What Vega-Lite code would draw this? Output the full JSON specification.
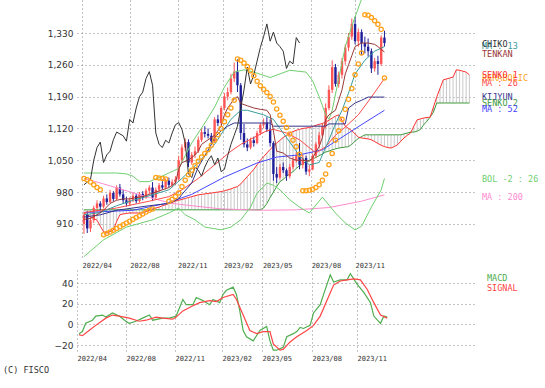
{
"$schema":"https://vega.github.io/schema/vega-lite/v6.json",
"background":"white",
"padding":{"left":3,"top":0,"right":0,"bottom":0},
"title":{"text":"(C) FISCO","orient":"bottom","anchor":"start","frame":"group","dx":-74,"offset":5,"font":"DejaVu Sans Mono","fontSize":8.5,"fontWeight":"normal","color":"#333333"},
"spacing":12,
"bounds":"flush",
"resolve":{"scale":{"x":"independent","y":"independent","color":"independent"}},
"datasets":{
"candles":[
{"i":0,"o":910,"h":935,"l":888,"c":930,"p":1010},{"i":1,"o":930,"h":938,"l":890,"c":900,"p":1007},{"i":2,"o":900,"h":925,"l":892,"c":918,"p":1002},{"i":3,"o":918,"h":950,"l":912,"c":945,"p":996},{"i":4,"o":945,"h":962,"l":938,"c":955,"p":990},{"i":5,"o":955,"h":960,"l":940,"c":948,"p":985},{"i":6,"o":948,"h":972,"l":944,"c":966,"p":886},{"i":7,"o":966,"h":975,"l":952,"c":958,"p":889},{"i":8,"o":958,"h":985,"l":955,"c":978,"p":892},{"i":9,"o":978,"h":982,"l":960,"c":965,"p":896},
{"i":10,"o":965,"h":995,"l":962,"c":990,"p":900},{"i":11,"o":990,"h":998,"l":970,"c":975,"p":904},{"i":12,"o":975,"h":985,"l":955,"c":962,"p":908},{"i":13,"o":962,"h":970,"l":948,"c":955,"p":912},{"i":14,"o":955,"h":968,"l":950,"c":963,"p":916},{"i":15,"o":963,"h":978,"l":958,"c":972,"p":920},{"i":16,"o":972,"h":976,"l":955,"c":960,"p":924},{"i":17,"o":960,"h":980,"l":957,"c":976,"p":928},{"i":18,"o":976,"h":982,"l":962,"c":968,"p":932},{"i":19,"o":968,"h":988,"l":965,"c":983,"p":936},
{"i":20,"o":983,"h":995,"l":975,"c":990,"p":940},{"i":21,"o":990,"h":1002,"l":960,"c":968,"p":943},{"i":22,"o":968,"h":990,"l":964,"c":985,"p":1012},{"i":23,"o":985,"h":1000,"l":980,"c":995,"p":1011},{"i":24,"o":995,"h":1008,"l":985,"c":990,"p":1010},{"i":25,"o":990,"h":1010,"l":986,"c":1005,"p":1009},{"i":26,"o":1005,"h":1012,"l":990,"c":996,"p":960},{"i":27,"o":996,"h":1008,"l":990,"c":1002,"p":964},{"i":28,"o":1002,"h":1015,"l":995,"c":1008,"p":970},{"i":29,"o":1008,"h":1060,"l":1005,"c":1050,"p":978},
{"i":30,"o":1050,"h":1085,"l":1045,"c":1078,"p":992},{"i":31,"o":1078,"h":1098,"l":1070,"c":1090,"p":1006},{"i":32,"o":1090,"h":1096,"l":1035,"c":1045,"p":1018},{"i":33,"o":1045,"h":1068,"l":1040,"c":1062,"p":1028},{"i":34,"o":1062,"h":1080,"l":1055,"c":1070,"p":1038},{"i":35,"o":1070,"h":1102,"l":1066,"c":1095,"p":1048},{"i":36,"o":1095,"h":1120,"l":1090,"c":1112,"p":1057},{"i":37,"o":1112,"h":1125,"l":1100,"c":1108,"p":1065},{"i":38,"o":1108,"h":1120,"l":1098,"c":1104,"p":1073},{"i":39,"o":1104,"h":1110,"l":1085,"c":1092,"p":1083},
{"i":40,"o":1092,"h":1145,"l":1090,"c":1140,"p":1094},{"i":41,"o":1140,"h":1150,"l":1125,"c":1132,"p":1106},{"i":42,"o":1132,"h":1170,"l":1128,"c":1165,"p":1120},{"i":43,"o":1165,"h":1198,"l":1160,"c":1190,"p":1135},{"i":44,"o":1190,"h":1210,"l":1182,"c":1200,"p":1150},{"i":45,"o":1200,"h":1240,"l":1195,"c":1230,"p":1165},{"i":46,"o":1230,"h":1265,"l":1222,"c":1245,"p":1182},{"i":47,"o":1245,"h":1272,"l":1200,"c":1215,"p":1273},{"i":48,"o":1215,"h":1220,"l":1095,"c":1110,"p":1270},{"i":49,"o":1110,"h":1130,"l":1078,"c":1085,"p":1264},
{"i":50,"o":1085,"h":1098,"l":1070,"c":1078,"p":1256},{"i":51,"o":1078,"h":1100,"l":1074,"c":1094,"p":1247},{"i":52,"o":1094,"h":1102,"l":1080,"c":1088,"p":1236},{"i":53,"o":1088,"h":1115,"l":1085,"c":1110,"p":1224},{"i":54,"o":1110,"h":1132,"l":1105,"c":1128,"p":1214},{"i":55,"o":1128,"h":1142,"l":1120,"c":1133,"p":1206},{"i":56,"o":1133,"h":1145,"l":1112,"c":1118,"p":1199},{"i":57,"o":1118,"h":1140,"l":1080,"c":1088,"p":1190},{"i":58,"o":1088,"h":1092,"l":1005,"c":1020,"p":1178},{"i":59,"o":1020,"h":1035,"l":1000,"c":1012,"p":1163},
{"i":60,"o":1012,"h":1042,"l":1008,"c":1035,"p":1149},{"i":61,"o":1035,"h":1045,"l":1022,"c":1028,"p":1136},{"i":62,"o":1028,"h":1032,"l":1005,"c":1015,"p":1122},{"i":63,"o":1015,"h":1042,"l":1010,"c":1035,"p":1108},{"i":64,"o":1035,"h":1058,"l":1030,"c":1050,"p":1094},{"i":65,"o":1050,"h":1068,"l":1045,"c":1060,"p":1080},{"i":66,"o":1060,"h":1088,"l":1030,"c":1040,"p":1063},{"i":67,"o":1040,"h":1062,"l":1032,"c":1055,"p":983},{"i":68,"o":1055,"h":1060,"l":1018,"c":1025,"p":983},{"i":69,"o":1025,"h":1040,"l":1015,"c":1030,"p":984},
{"i":70,"o":1030,"h":1065,"l":1028,"c":1060,"p":986},{"i":71,"o":1060,"h":1090,"l":1055,"c":1085,"p":990},{"i":72,"o":1085,"h":1112,"l":1078,"c":1105,"p":996},{"i":73,"o":1105,"h":1130,"l":1100,"c":1125,"p":1006},{"i":74,"o":1125,"h":1175,"l":1120,"c":1165,"p":1020},{"i":75,"o":1165,"h":1215,"l":1160,"c":1205,"p":1040},{"i":76,"o":1205,"h":1270,"l":1198,"c":1255,"p":1065},{"i":77,"o":1255,"h":1262,"l":1212,"c":1218,"p":1094},{"i":78,"o":1218,"h":1245,"l":1210,"c":1238,"p":1115},{"i":79,"o":1238,"h":1275,"l":1230,"c":1268,"p":1140},
{"i":80,"o":1268,"h":1305,"l":1260,"c":1298,"p":1162},{"i":81,"o":1298,"h":1330,"l":1290,"c":1322,"p":1184},{"i":82,"o":1322,"h":1362,"l":1315,"c":1350,"p":1208},{"i":83,"o":1350,"h":1366,"l":1305,"c":1312,"p":1238},{"i":84,"o":1312,"h":1340,"l":1300,"c":1332,"p":1262},{"i":85,"o":1332,"h":1338,"l":1282,"c":1308,"p":1286},{"i":86,"o":1308,"h":1322,"l":1285,"c":1300,"p":1370},{"i":87,"o":1300,"h":1318,"l":1278,"c":1290,"p":1369},{"i":88,"o":1290,"h":1296,"l":1242,"c":1252,"p":1364},{"i":89,"o":1252,"h":1275,"l":1245,"c":1268,"p":1357},
{"i":90,"o":1268,"h":1280,"l":1238,"c":1262,"p":1349},{"i":91,"o":1262,"h":1325,"l":1258,"c":1320,"p":1338},{"i":92,"o":1320,"h":1335,"l":1300,"c":1308,"p":1231}
],
"cloud":[
{"i":0,"s1":934,"s2":941},{"i":1,"s1":930,"s2":941},{"i":2,"s1":926,"s2":941},{"i":3,"s1":922,"s2":941},{"i":4,"s1":918,"s2":941},{"i":5,"s1":905,"s2":941},{"i":6,"s1":893,"s2":941},{"i":7,"s1":890,"s2":941},{"i":8,"s1":893,"s2":941},{"i":9,"s1":897,"s2":941},
{"i":10,"s1":915,"s2":941},{"i":11,"s1":930,"s2":941},{"i":12,"s1":932,"s2":941},{"i":13,"s1":933,"s2":941},{"i":14,"s1":934,"s2":941},{"i":15,"s1":934,"s2":941},{"i":16,"s1":934,"s2":941},{"i":17,"s1":934,"s2":941},{"i":18,"s1":934,"s2":941},{"i":19,"s1":937,"s2":941},
{"i":20,"s1":940,"s2":941},{"i":21,"s1":943,"s2":941},{"i":22,"s1":945,"s2":941},{"i":23,"s1":947,"s2":941},{"i":24,"s1":950,"s2":941},{"i":25,"s1":952,"s2":941},{"i":26,"s1":955,"s2":941},{"i":27,"s1":957,"s2":941},{"i":28,"s1":960,"s2":941},{"i":29,"s1":962,"s2":941},
{"i":30,"s1":964,"s2":941},{"i":31,"s1":966,"s2":941},{"i":32,"s1":968,"s2":941},{"i":33,"s1":970,"s2":941},{"i":34,"s1":972,"s2":941},{"i":35,"s1":974,"s2":941},{"i":36,"s1":975,"s2":941},{"i":37,"s1":976,"s2":941},{"i":38,"s1":977,"s2":941},{"i":39,"s1":978,"s2":941},
{"i":40,"s1":979,"s2":941},{"i":41,"s1":980,"s2":941},{"i":42,"s1":981,"s2":941},{"i":43,"s1":983,"s2":941},{"i":44,"s1":985,"s2":941},{"i":45,"s1":987,"s2":941},{"i":46,"s1":990,"s2":941},{"i":47,"s1":992,"s2":941},{"i":48,"s1":998,"s2":941},{"i":49,"s1":1006,"s2":941},
{"i":50,"s1":1014,"s2":941},{"i":51,"s1":1022,"s2":941},{"i":52,"s1":1030,"s2":941},{"i":53,"s1":1040,"s2":941},{"i":54,"s1":1050,"s2":941},{"i":55,"s1":1058,"s2":945},{"i":56,"s1":1066,"s2":955},{"i":57,"s1":1074,"s2":968},{"i":58,"s1":1081,"s2":980},{"i":59,"s1":1088,"s2":992},
{"i":60,"s1":1094,"s2":1003},{"i":61,"s1":1100,"s2":1008},{"i":62,"s1":1105,"s2":1015},{"i":63,"s1":1110,"s2":1020},{"i":64,"s1":1113,"s2":1025},{"i":65,"s1":1116,"s2":1032},{"i":66,"s1":1118,"s2":1038},{"i":67,"s1":1120,"s2":1043},{"i":68,"s1":1121,"s2":1047},{"i":69,"s1":1122,"s2":1050},
{"i":70,"s1":1124,"s2":1053},{"i":71,"s1":1127,"s2":1056},{"i":72,"s1":1129,"s2":1060},{"i":73,"s1":1131,"s2":1064},{"i":74,"s1":1134,"s2":1068},{"i":75,"s1":1138,"s2":1070},{"i":76,"s1":1143,"s2":1073},{"i":77,"s1":1147,"s2":1075},{"i":78,"s1":1150,"s2":1077},{"i":79,"s1":1138,"s2":1078},
{"i":80,"s1":1125,"s2":1079},{"i":81,"s1":1120,"s2":1080},{"i":82,"s1":1115,"s2":1085},{"i":83,"s1":1108,"s2":1092},{"i":84,"s1":1101,"s2":1098},{"i":85,"s1":1099,"s2":1102},{"i":86,"s1":1098,"s2":1106},{"i":87,"s1":1097,"s2":1106},{"i":88,"s1":1095,"s2":1106},{"i":89,"s1":1091,"s2":1106},
{"i":90,"s1":1087,"s2":1106},{"i":91,"s1":1083,"s2":1106},{"i":92,"s1":1080,"s2":1106},{"i":93,"s1":1078,"s2":1106},{"i":94,"s1":1077,"s2":1106},{"i":95,"s1":1080,"s2":1106},{"i":96,"s1":1084,"s2":1106},{"i":97,"s1":1092,"s2":1106},{"i":98,"s1":1099,"s2":1108},{"i":99,"s1":1105,"s2":1110},
{"i":100,"s1":1110,"s2":1112},{"i":101,"s1":1125,"s2":1112},{"i":102,"s1":1139,"s2":1114},{"i":103,"s1":1141,"s2":1118},{"i":104,"s1":1143,"s2":1128},{"i":105,"s1":1144,"s2":1136},{"i":106,"s1":1145,"s2":1145},{"i":107,"s1":1167,"s2":1156},{"i":108,"s1":1189,"s2":1176},{"i":109,"s1":1208,"s2":1176},
{"i":110,"s1":1227,"s2":1176},{"i":111,"s1":1229,"s2":1176},{"i":112,"s1":1231,"s2":1176},{"i":113,"s1":1233,"s2":1176},{"i":114,"s1":1249,"s2":1176},{"i":115,"s1":1248,"s2":1176},{"i":116,"s1":1246,"s2":1176},{"i":117,"s1":1244,"s2":1176},{"i":118,"s1":1238,"s2":1176}
],
"lines":[
{"s":"MA : 200","i":0,"v":1010},{"s":"MA : 200","i":6,"v":998},{"s":"MA : 200","i":12,"v":985},{"s":"MA : 200","i":20,"v":968},{"s":"MA : 200","i":27,"v":955},{"s":"MA : 200","i":33,"v":950},{"s":"MA : 200","i":42,"v":943},{"s":"MA : 200","i":55,"v":940},{"s":"MA : 200","i":65,"v":941},{"s":"MA : 200","i":75,"v":946},{"s":"MA : 200","i":85,"v":960},{"s":"MA : 200","i":92,"v":974},
{"s":"BOLU","i":0,"v":1022},{"s":"BOLU","i":5,"v":1022},{"s":"BOLU","i":10,"v":1022},{"s":"BOLU","i":13,"v":1020},{"s":"BOLU","i":15,"v":1015},{"s":"BOLU","i":17,"v":1003},{"s":"BOLU","i":20,"v":1003},{"s":"BOLU","i":23,"v":1012},{"s":"BOLU","i":26,"v":1022},{"s":"BOLU","i":29,"v":1032},{"s":"BOLU","i":31,"v":1060},{"s":"BOLU","i":33,"v":1088},{"s":"BOLU","i":37,"v":1132},{"s":"BOLU","i":40,"v":1167},{"s":"BOLU","i":43,"v":1211},{"s":"BOLU","i":46,"v":1244},{"s":"BOLU","i":49,"v":1249},{"s":"BOLU","i":52,"v":1244},{"s":"BOLU","i":57,"v":1232},{"s":"BOLU","i":63,"v":1248},{"s":"BOLU","i":68,"v":1244},{"s":"BOLU","i":70,"v":1225},{"s":"BOLU","i":72,"v":1190},{"s":"BOLU","i":74,"v":1150},{"s":"BOLU","i":75,"v":1140},{"s":"BOLU","i":76,"v":1160},{"s":"BOLU","i":78,"v":1230},{"s":"BOLU","i":80,"v":1300},{"s":"BOLU","i":82,"v":1345},{"s":"BOLU","i":84,"v":1385},{"s":"BOLU","i":85,"v":1405},{"s":"BOLU","i":87,"v":1430},{"s":"BOLU","i":90,"v":1450},{"s":"BOLU","i":92,"v":1451},
{"s":"BOL -2 : 26","i":0,"v":838},{"s":"BOL -2 : 26","i":6,"v":875},{"s":"BOL -2 : 26","i":13,"v":903},{"s":"BOL -2 : 26","i":21,"v":919},{"s":"BOL -2 : 26","i":26,"v":934},{"s":"BOL -2 : 26","i":29,"v":945},{"s":"BOL -2 : 26","i":31,"v":930},{"s":"BOL -2 : 26","i":34,"v":919},{"s":"BOL -2 : 26","i":37,"v":903},{"s":"BOL -2 : 26","i":42,"v":897},{"s":"BOL -2 : 26","i":45,"v":903},{"s":"BOL -2 : 26","i":48,"v":919},{"s":"BOL -2 : 26","i":51,"v":947},{"s":"BOL -2 : 26","i":53,"v":978},{"s":"BOL -2 : 26","i":55,"v":992},{"s":"BOL -2 : 26","i":56,"v":1000},{"s":"BOL -2 : 26","i":58,"v":995},{"s":"BOL -2 : 26","i":60,"v":985},{"s":"BOL -2 : 26","i":63,"v":963},{"s":"BOL -2 : 26","i":66,"v":947},{"s":"BOL -2 : 26","i":69,"v":934},{"s":"BOL -2 : 26","i":72,"v":960},{"s":"BOL -2 : 26","i":73,"v":969},{"s":"BOL -2 : 26","i":77,"v":934},{"s":"BOL -2 : 26","i":80,"v":912},{"s":"BOL -2 : 26","i":83,"v":897},{"s":"BOL -2 : 26","i":85,"v":905},{"s":"BOL -2 : 26","i":88,"v":947},{"s":"BOL -2 : 26","i":91,"v":985},{"s":"BOL -2 : 26","i":92,"v":1010},
{"s":"MA : 52","i":0,"v":935},{"s":"MA : 52","i":15,"v":940},{"s":"MA : 52","i":25,"v":955},{"s":"MA : 52","i":33,"v":975},{"s":"MA : 52","i":43,"v":1013},{"s":"MA : 52","i":53,"v":1044},{"s":"MA : 52","i":59,"v":1057},{"s":"MA : 52","i":66,"v":1062},{"s":"MA : 52","i":73,"v":1073},{"s":"MA : 52","i":81,"v":1110},{"s":"MA : 52","i":86,"v":1133},{"s":"MA : 52","i":92,"v":1160},
{"s":"MA : 26","i":0,"v":935},{"s":"MA : 26","i":10,"v":945},{"s":"MA : 26","i":20,"v":960},{"s":"MA : 26","i":26,"v":970},{"s":"MA : 26","i":30,"v":985},{"s":"MA : 26","i":35,"v":1010},{"s":"MA : 26","i":40,"v":1040},{"s":"MA : 26","i":45,"v":1070},{"s":"MA : 26","i":48,"v":1085},{"s":"MA : 26","i":52,"v":1100},{"s":"MA : 26","i":56,"v":1115},{"s":"MA : 26","i":58,"v":1118},{"s":"MA : 26","i":62,"v":1110},{"s":"MA : 26","i":66,"v":1095},{"s":"MA : 26","i":71,"v":1066},{"s":"MA : 26","i":74,"v":1080},{"s":"MA : 26","i":77,"v":1105},{"s":"MA : 26","i":80,"v":1123},{"s":"MA : 26","i":84,"v":1150},{"s":"MA : 26","i":88,"v":1189},{"s":"MA : 26","i":92,"v":1230},
{"s":"MA : 13","i":0,"v":930},{"s":"MA : 13","i":5,"v":935},{"s":"MA : 13","i":10,"v":950},{"s":"MA : 13","i":15,"v":962},{"s":"MA : 13","i":20,"v":972},{"s":"MA : 13","i":26,"v":985},{"s":"MA : 13","i":30,"v":1010},{"s":"MA : 13","i":35,"v":1045},{"s":"MA : 13","i":40,"v":1085},{"s":"MA : 13","i":45,"v":1140},{"s":"MA : 13","i":48,"v":1160},{"s":"MA : 13","i":50,"v":1160},{"s":"MA : 13","i":55,"v":1150},{"s":"MA : 13","i":58,"v":1140},{"s":"MA : 13","i":60,"v":1120},{"s":"MA : 13","i":63,"v":1090},{"s":"MA : 13","i":66,"v":1060},{"s":"MA : 13","i":69,"v":1040},{"s":"MA : 13","i":72,"v":1045},{"s":"MA : 13","i":75,"v":1095},{"s":"MA : 13","i":77,"v":1130},{"s":"MA : 13","i":79,"v":1160},{"s":"MA : 13","i":81,"v":1198},{"s":"MA : 13","i":83,"v":1240},{"s":"MA : 13","i":86,"v":1270},{"s":"MA : 13","i":89,"v":1290},{"s":"MA : 13","i":92,"v":1300},
{"s":"KIJYUN","i":0,"v":925},{"s":"KIJYUN","i":5,"v":930},{"s":"KIJYUN","i":10,"v":940},{"s":"KIJYUN","i":20,"v":950},{"s":"KIJYUN","i":26,"v":955},{"s":"KIJYUN","i":29,"v":965},{"s":"KIJYUN","i":30,"v":975},{"s":"KIJYUN","i":33,"v":1000},{"s":"KIJYUN","i":35,"v":1035},{"s":"KIJYUN","i":37,"v":1060},{"s":"KIJYUN","i":39,"v":1085},{"s":"KIJYUN","i":40,"v":1100},{"s":"KIJYUN","i":42,"v":1115},{"s":"KIJYUN","i":44,"v":1125},{"s":"KIJYUN","i":46,"v":1132},{"s":"KIJYUN","i":57,"v":1132},{"s":"KIJYUN","i":58,"v":1125},{"s":"KIJYUN","i":74,"v":1125},{"s":"KIJYUN","i":75,"v":1130},{"s":"KIJYUN","i":80,"v":1130},{"s":"KIJYUN","i":81,"v":1165},{"s":"KIJYUN","i":83,"v":1176},{"s":"KIJYUN","i":85,"v":1182},{"s":"KIJYUN","i":87,"v":1189},{"s":"KIJYUN","i":92,"v":1189},
{"s":"TENKAN","i":0,"v":920},{"s":"TENKAN","i":2,"v":922},{"s":"TENKAN","i":4,"v":930},{"s":"TENKAN","i":6,"v":940},{"s":"TENKAN","i":8,"v":955},{"s":"TENKAN","i":10,"v":962},{"s":"TENKAN","i":12,"v":965},{"s":"TENKAN","i":14,"v":965},{"s":"TENKAN","i":16,"v":968},{"s":"TENKAN","i":18,"v":970},{"s":"TENKAN","i":20,"v":975},{"s":"TENKAN","i":22,"v":980},{"s":"TENKAN","i":24,"v":985},{"s":"TENKAN","i":26,"v":990},{"s":"TENKAN","i":28,"v":1000},{"s":"TENKAN","i":29,"v":1030},{"s":"TENKAN","i":30,"v":1045},{"s":"TENKAN","i":32,"v":1050},{"s":"TENKAN","i":34,"v":1062},{"s":"TENKAN","i":35,"v":1070},{"s":"TENKAN","i":36,"v":1085},{"s":"TENKAN","i":38,"v":1095},{"s":"TENKAN","i":40,"v":1105},{"s":"TENKAN","i":42,"v":1125},{"s":"TENKAN","i":43,"v":1150},{"s":"TENKAN","i":44,"v":1165},{"s":"TENKAN","i":46,"v":1185},{"s":"TENKAN","i":47,"v":1190},{"s":"TENKAN","i":48,"v":1175},{"s":"TENKAN","i":50,"v":1170},{"s":"TENKAN","i":52,"v":1165},{"s":"TENKAN","i":54,"v":1162},{"s":"TENKAN","i":56,"v":1160},{"s":"TENKAN","i":57,"v":1150},{"s":"TENKAN","i":58,"v":1115},{"s":"TENKAN","i":59,"v":1070},{"s":"TENKAN","i":61,"v":1066},{"s":"TENKAN","i":63,"v":1055},{"s":"TENKAN","i":65,"v":1050},{"s":"TENKAN","i":67,"v":1050},{"s":"TENKAN","i":69,"v":1048},{"s":"TENKAN","i":70,"v":1055},{"s":"TENKAN","i":71,"v":1068},{"s":"TENKAN","i":72,"v":1080},{"s":"TENKAN","i":73,"v":1100},{"s":"TENKAN","i":74,"v":1140},{"s":"TENKAN","i":75,"v":1150},{"s":"TENKAN","i":77,"v":1160},{"s":"TENKAN","i":79,"v":1205},{"s":"TENKAN","i":80,"v":1240},{"s":"TENKAN","i":81,"v":1260},{"s":"TENKAN","i":82,"v":1280},{"s":"TENKAN","i":83,"v":1300},{"s":"TENKAN","i":85,"v":1308},{"s":"TENKAN","i":87,"v":1308},{"s":"TENKAN","i":89,"v":1305},{"s":"TENKAN","i":90,"v":1300},{"s":"TENKAN","i":92,"v":1288},
{"s":"CHIKO","i":0,"v":996},{"s":"CHIKO","i":1,"v":1002},{"s":"CHIKO","i":2,"v":1008},{"s":"CHIKO","i":3,"v":1050},{"s":"CHIKO","i":4,"v":1078},{"s":"CHIKO","i":5,"v":1090},{"s":"CHIKO","i":6,"v":1045},{"s":"CHIKO","i":7,"v":1062},{"s":"CHIKO","i":8,"v":1070},{"s":"CHIKO","i":9,"v":1095},{"s":"CHIKO","i":10,"v":1112},{"s":"CHIKO","i":11,"v":1108},{"s":"CHIKO","i":12,"v":1104},{"s":"CHIKO","i":13,"v":1092},{"s":"CHIKO","i":14,"v":1140},{"s":"CHIKO","i":15,"v":1132},{"s":"CHIKO","i":16,"v":1165},{"s":"CHIKO","i":17,"v":1190},{"s":"CHIKO","i":18,"v":1200},{"s":"CHIKO","i":19,"v":1230},{"s":"CHIKO","i":20,"v":1245},{"s":"CHIKO","i":21,"v":1215},{"s":"CHIKO","i":22,"v":1110},{"s":"CHIKO","i":23,"v":1085},{"s":"CHIKO","i":24,"v":1078},{"s":"CHIKO","i":25,"v":1094},{"s":"CHIKO","i":26,"v":1088},{"s":"CHIKO","i":27,"v":1110},{"s":"CHIKO","i":28,"v":1128},{"s":"CHIKO","i":29,"v":1133},{"s":"CHIKO","i":30,"v":1118},{"s":"CHIKO","i":31,"v":1088},{"s":"CHIKO","i":32,"v":1020},{"s":"CHIKO","i":33,"v":1012},{"s":"CHIKO","i":34,"v":1035},{"s":"CHIKO","i":35,"v":1028},{"s":"CHIKO","i":36,"v":1015},{"s":"CHIKO","i":37,"v":1035},{"s":"CHIKO","i":38,"v":1050},{"s":"CHIKO","i":39,"v":1060},{"s":"CHIKO","i":40,"v":1040},{"s":"CHIKO","i":41,"v":1055},{"s":"CHIKO","i":42,"v":1025},{"s":"CHIKO","i":43,"v":1030},{"s":"CHIKO","i":44,"v":1060},{"s":"CHIKO","i":45,"v":1085},{"s":"CHIKO","i":46,"v":1105},{"s":"CHIKO","i":47,"v":1125},{"s":"CHIKO","i":48,"v":1165},{"s":"CHIKO","i":49,"v":1205},{"s":"CHIKO","i":50,"v":1255},{"s":"CHIKO","i":51,"v":1218},{"s":"CHIKO","i":52,"v":1238},{"s":"CHIKO","i":53,"v":1268},{"s":"CHIKO","i":54,"v":1298},{"s":"CHIKO","i":55,"v":1322},{"s":"CHIKO","i":56,"v":1350},{"s":"CHIKO","i":57,"v":1312},{"s":"CHIKO","i":58,"v":1332},{"s":"CHIKO","i":59,"v":1308},{"s":"CHIKO","i":60,"v":1300},{"s":"CHIKO","i":61,"v":1290},{"s":"CHIKO","i":62,"v":1252},{"s":"CHIKO","i":63,"v":1268},{"s":"CHIKO","i":64,"v":1262},{"s":"CHIKO","i":65,"v":1320},{"s":"CHIKO","i":66,"v":1308}
],
"labels":[
{"s":"MA : 13","v":1302},{"s":"CHIKO","v":1306},{"s":"TENKAN","v":1284},{"s":"PARABOLIC","v":1232},{"s":"SENKO 1","v":1237},{"s":"MA : 26","v":1221},{"s":"KIJYUN","v":1190},{"s":"SENKO 2","v":1176},{"s":"MA : 52","v":1162},{"s":"BOL -2 : 26","v":1009},{"s":"MA : 200","v":970}
],
"macd":[
{"s":"MACD","i":0,"v":-9},{"s":"MACD","i":1,"v":-7},{"s":"MACD","i":2,"v":1},{"s":"MACD","i":4,"v":4},{"s":"MACD","i":5,"v":8},{"s":"MACD","i":7,"v":9},{"s":"MACD","i":8,"v":7},{"s":"MACD","i":10,"v":11},{"s":"MACD","i":12,"v":8},{"s":"MACD","i":14,"v":3},{"s":"MACD","i":15,"v":1},{"s":"MACD","i":17,"v":3},{"s":"MACD","i":19,"v":6},{"s":"MACD","i":21,"v":9},{"s":"MACD","i":22,"v":4},{"s":"MACD","i":25,"v":6},{"s":"MACD","i":27,"v":6},{"s":"MACD","i":29,"v":8},{"s":"MACD","i":31,"v":24},{"s":"MACD","i":32,"v":19},{"s":"MACD","i":34,"v":19},{"s":"MACD","i":35,"v":26},{"s":"MACD","i":37,"v":23},{"s":"MACD","i":39,"v":19},{"s":"MACD","i":40,"v":24},{"s":"MACD","i":42,"v":21},{"s":"MACD","i":43,"v":29},{"s":"MACD","i":44,"v":33},{"s":"MACD","i":46,"v":36},{"s":"MACD","i":47,"v":29},{"s":"MACD","i":48,"v":13},{"s":"MACD","i":49,"v":-6},{"s":"MACD","i":50,"v":-12},{"s":"MACD","i":52,"v":-16},{"s":"MACD","i":53,"v":-11},{"s":"MACD","i":54,"v":-6},{"s":"MACD","i":56,"v":-2},{"s":"MACD","i":57,"v":-16},{"s":"MACD","i":58,"v":-25},{"s":"MACD","i":59,"v":-25},{"s":"MACD","i":61,"v":-22},{"s":"MACD","i":62,"v":-12},{"s":"MACD","i":64,"v":-9},{"s":"MACD","i":65,"v":-7},{"s":"MACD","i":66,"v":-3},{"s":"MACD","i":67,"v":-4},{"s":"MACD","i":69,"v":-1},{"s":"MACD","i":70,"v":11},{"s":"MACD","i":72,"v":19},{"s":"MACD","i":73,"v":29},{"s":"MACD","i":75,"v":48},{"s":"MACD","i":76,"v":41},{"s":"MACD","i":78,"v":43},{"s":"MACD","i":80,"v":43},{"s":"MACD","i":81,"v":49},{"s":"MACD","i":82,"v":44},{"s":"MACD","i":83,"v":39},{"s":"MACD","i":85,"v":31},{"s":"MACD","i":87,"v":21},{"s":"MACD","i":88,"v":8},{"s":"MACD","i":90,"v":1},{"s":"MACD","i":91,"v":8},{"s":"MACD","i":92,"v":7},
{"s":"SIGNAL","i":0,"v":-10},{"s":"SIGNAL","i":1,"v":-11},{"s":"SIGNAL","i":3,"v":-6},{"s":"SIGNAL","i":5,"v":-1},{"s":"SIGNAL","i":8,"v":6},{"s":"SIGNAL","i":10,"v":9},{"s":"SIGNAL","i":12,"v":8},{"s":"SIGNAL","i":15,"v":6},{"s":"SIGNAL","i":18,"v":3},{"s":"SIGNAL","i":20,"v":4},{"s":"SIGNAL","i":23,"v":7},{"s":"SIGNAL","i":25,"v":6},{"s":"SIGNAL","i":28,"v":5},{"s":"SIGNAL","i":29,"v":7},{"s":"SIGNAL","i":31,"v":13},{"s":"SIGNAL","i":34,"v":18},{"s":"SIGNAL","i":36,"v":21},{"s":"SIGNAL","i":39,"v":23},{"s":"SIGNAL","i":41,"v":22},{"s":"SIGNAL","i":43,"v":26},{"s":"SIGNAL","i":46,"v":29},{"s":"SIGNAL","i":47,"v":24},{"s":"SIGNAL","i":49,"v":9},{"s":"SIGNAL","i":51,"v":-6},{"s":"SIGNAL","i":53,"v":-9},{"s":"SIGNAL","i":55,"v":-7},{"s":"SIGNAL","i":57,"v":-7},{"s":"SIGNAL","i":58,"v":-19},{"s":"SIGNAL","i":60,"v":-25},{"s":"SIGNAL","i":61,"v":-24},{"s":"SIGNAL","i":63,"v":-17},{"s":"SIGNAL","i":65,"v":-12},{"s":"SIGNAL","i":68,"v":-6},{"s":"SIGNAL","i":70,"v":-1},{"s":"SIGNAL","i":72,"v":8},{"s":"SIGNAL","i":74,"v":23},{"s":"SIGNAL","i":76,"v":38},{"s":"SIGNAL","i":78,"v":42},{"s":"SIGNAL","i":80,"v":43},{"s":"SIGNAL","i":82,"v":44},{"s":"SIGNAL","i":84,"v":43},{"s":"SIGNAL","i":86,"v":34},{"s":"SIGNAL","i":88,"v":21},{"s":"SIGNAL","i":90,"v":9},{"s":"SIGNAL","i":92,"v":6}
],
"macdlabels":[{"s":"MACD","v":45},{"s":"SIGNAL","v":35}]
},
"vconcat":[
{
"width":400,"height":258,
"layer":[
{"data":{"name":"cloud"},"mark":{"type":"rule","color":"#c8c8c8","strokeWidth":1,"clip":true},
"encoding":{
"x":{"field":"i","type":"quantitative","scale":{"domain":[-0.6,118.8],"nice":false,"zero":false},
"axis":{"values":[-0.6,14.03,28.66,42.69,54.63,69.55,82.99],"labelExpr":"datum.value < 5 ? '2022/04' : datum.value < 20 ? '2022/08' : datum.value < 35 ? '2022/11' : datum.value < 50 ? '2023/02' : datum.value < 60 ? '2023/05' : datum.value < 75 ? '2023/08' : '2023/11'","labelAlign":"left","labelFlush":false,"labelOverlap":false,"labelFont":"DejaVu Sans Mono","labelFontSize":7,"labelPadding":3,"title":null,"grid":true}},
"y":{"field":"s1","type":"quantitative","scale":{"domain":[835,1402.6],"nice":false,"zero":false},
"axis":{"values":[910,980,1050,1120,1190,1260,1330],"format":",d","labelOverlap":false,"labelFont":"DejaVu Sans","labelFontSize":9,"labelPadding":4,"title":null,"grid":true}},
"y2":{"field":"s2"}}},
{"data":{"name":"cloud"},"mark":{"type":"line","color":"#3d9a3d","strokeWidth":1,"clip":true},
"encoding":{"x":{"field":"i","type":"quantitative","scale":{"domain":[-0.6,118.8],"nice":false,"zero":false}},"y":{"field":"s2","type":"quantitative","scale":{"domain":[835,1402.6],"nice":false,"zero":false}}}},
{"data":{"name":"cloud"},"mark":{"type":"line","color":"#ff3030","strokeWidth":1,"clip":true},
"encoding":{"x":{"field":"i","type":"quantitative","scale":{"domain":[-0.6,118.8],"nice":false,"zero":false}},"y":{"field":"s1","type":"quantitative","scale":{"domain":[835,1402.6],"nice":false,"zero":false}}}},
{"data":{"name":"candles"},"mark":{"type":"rule","strokeWidth":1,"clip":true},
"encoding":{"x":{"field":"i","type":"quantitative","scale":{"domain":[-0.6,118.8],"nice":false,"zero":false}},"y":{"field":"l","type":"quantitative","scale":{"domain":[835,1402.6],"nice":false,"zero":false}},"y2":{"field":"h"},
"color":{"condition":{"test":"datum.c >= datum.o","value":"#ff5555"},"value":"#1f1f9a"}}},
{"data":{"name":"candles"},"mark":{"type":"bar","size":2.4,"clip":true},
"encoding":{"x":{"field":"i","type":"quantitative","scale":{"domain":[-0.6,118.8],"nice":false,"zero":false}},"y":{"field":"o","type":"quantitative","scale":{"domain":[835,1402.6],"nice":false,"zero":false}},"y2":{"field":"c"},
"color":{"condition":{"test":"datum.c >= datum.o","value":"#ff5555"},"value":"#1f1f9a"}}},
{"data":{"name":"lines"},"mark":{"type":"line","strokeWidth":1,"clip":true},
"encoding":{"x":{"field":"i","type":"quantitative","scale":{"domain":[-0.6,118.8],"nice":false,"zero":false}},"y":{"field":"v","type":"quantitative","scale":{"domain":[835,1402.6],"nice":false,"zero":false}},
"color":{"field":"s","type":"nominal","legend":null,"scale":{"domain":["CHIKO","MA : 13","TENKAN","SENKO 1","PARABOLIC","MA : 26","KIJYUN","SENKO 2","MA : 52","BOLU","BOL -2 : 26","MA : 200"],"range":["#333333","#3a9c9c","#993838","#ff3030","#ffa21a","#ff4a4a","#34348c","#3d9a3d","#4646ff","#6fcf6f","#6fcf6f","#ff8ccf"]}}}},
{"data":{"name":"candles"},"mark":{"type":"point","shape":"circle","filled":false,"color":"#ffa21a","strokeWidth":1.3,"size":18,"opacity":1,"clip":true},
"encoding":{"x":{"field":"i","type":"quantitative","scale":{"domain":[-0.6,118.8],"nice":false,"zero":false}},"y":{"field":"p","type":"quantitative","scale":{"domain":[835,1402.6],"nice":false,"zero":false}}}},
{"data":{"name":"labels"},"mark":{"type":"text","align":"left","baseline":"middle","dx":10,"font":"DejaVu Sans Mono","fontSize":8.5},
"encoding":{"x":{"datum":118.8,"type":"quantitative","scale":{"domain":[-0.6,118.8],"nice":false,"zero":false}},"y":{"field":"v","type":"quantitative","scale":{"domain":[835,1402.6],"nice":false,"zero":false}},"text":{"field":"s"},
"color":{"field":"s","type":"nominal","legend":null,"scale":{"domain":["CHIKO","MA : 13","TENKAN","SENKO 1","PARABOLIC","MA : 26","KIJYUN","SENKO 2","MA : 52","BOLU","BOL -2 : 26","MA : 200"],"range":["#333333","#3a9c9c","#993838","#ff3030","#ffa21a","#ff4a4a","#34348c","#3d9a3d","#4646ff","#6fcf6f","#6fcf6f","#ff8ccf"]}}}}
]
},
{
"width":400,"height":81,
"layer":[
{"data":{"name":"macd"},"mark":{"type":"line","strokeWidth":1.2,"clip":true},
"encoding":{
"x":{"field":"i","type":"quantitative","scale":{"domain":[-0.6,118.8],"nice":false,"zero":false},
"axis":{"values":[-0.6,14.03,28.66,42.69,54.63,69.55,82.99],"labelExpr":"datum.value < 5 ? '2022/04' : datum.value < 20 ? '2022/08' : datum.value < 35 ? '2022/11' : datum.value < 50 ? '2023/02' : datum.value < 60 ? '2023/05' : datum.value < 75 ? '2023/08' : '2023/11'","labelAlign":"left","labelFlush":false,"labelOverlap":false,"labelFont":"DejaVu Sans Mono","labelFontSize":7,"labelPadding":3,"title":null,"grid":true}},
"y":{"field":"v","type":"quantitative","scale":{"domain":[-25.8,52.6],"nice":false,"zero":false},
"axis":{"values":[-20,0,20,40],"tickCount":4,"labelExpr":"format(datum.value, 'd')","labelOverlap":false,"labelFlush":false,"labelBound":false,"labelFont":"DejaVu Sans","labelFontSize":9,"labelPadding":4,"title":null,"grid":true}},
"color":{"field":"s","type":"nominal","legend":null,"scale":{"domain":["MACD","SIGNAL"],"range":["#4fae4f","#ff4444"]}}}},
{"data":{"name":"macdlabels"},"mark":{"type":"text","align":"left","baseline":"middle","dx":10,"font":"DejaVu Sans Mono","fontSize":8.5},
"encoding":{"x":{"datum":118.8,"type":"quantitative","scale":{"domain":[-0.6,118.8],"nice":false,"zero":false}},"y":{"field":"v","type":"quantitative","scale":{"domain":[-25.8,52.6],"nice":false,"zero":false},
"axis":{"values":[-20,0,20,40],"tickCount":4,"labelExpr":"format(datum.value, 'd')","labelOverlap":false,"labelFlush":false,"labelBound":false,"labelFont":"DejaVu Sans","labelFontSize":9,"labelPadding":4,"title":null,"grid":true}},"text":{"field":"s"},
"color":{"field":"s","type":"nominal","legend":null,"scale":{"domain":["MACD","SIGNAL"],"range":["#4fae4f","#ff4444"]}}}}
]
}
],
"config":{
"view":{"stroke":null},
"axis":{"domain":false,"ticks":false,"gridColor":"#888888","gridDash":[1,3],"gridWidth":1,"labelColor":"#333333","labelOverlap":false},
"axisY":{"labelOverlap":false},
"axisQuantitative":{"labelOverlap":false}
}
}
